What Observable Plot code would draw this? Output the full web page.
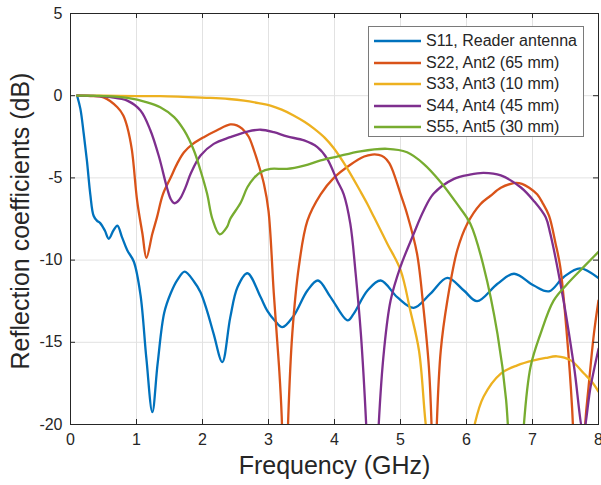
<!DOCTYPE html>
<html>
<head>
<meta charset="utf-8">
<script src="https://cdn.jsdelivr.net/npm/d3@7"></script>
<script src="https://cdn.jsdelivr.net/npm/@observablehq/plot@0.6"></script>
<style>
  body { margin: 0; background: #fff; overflow: hidden; }
  #wrap { position: relative; width: 601px; height: 485px; font-family: "Liberation Sans", Arial, sans-serif; }
  #wrap > svg { overflow: visible; }
  #legend { position: absolute; left: 368px; top: 26px; width: 214px; height: 109px; border: 1px solid #7a7a7a; background: #fff; }
  .row { position: absolute; left: 5px; height: 20px; display: flex; align-items: center; font-size: 16px; color: #262626; white-space: nowrap; }
  .row svg { margin-right: 4px; }
</style>
</head>
<body>
<div id="wrap"></div>
<script>
const xTicks = [0, 1, 2, 3, 4, 5, 6, 7, 8];
const yTicks = [-20, -15, -10, -5, 0, 5];
const seriesNames = ["S11, Reader antenna", "S22, Ant2 (65 mm)", "S33, Ant3 (10 mm)", "S44, Ant4 (45 mm)", "S55, Ant5 (30 mm)"];
const seriesColors = ["#0072BD", "#D95319", "#EDB120", "#7E2F8E", "#77AC30"];

const s11Freq = [0.1,0.15,0.2,0.25,0.3,0.35,0.4,0.45,0.52,0.58,0.65,0.71,0.78,0.86,0.96,1.06,1.15,1.24,1.32,1.42,1.52,1.62,1.73,1.87,1.97,2.07,2.17,2.3,2.42,2.53,2.68,2.88,2.98,3.1,3.21,3.38,3.59,3.75,3.94,4.2,4.29,4.5,4.7,4.95,5.2,5.45,5.71,5.96,6.16,6.47,6.72,7.02,7.25,7.47,7.72,8.0];
const s11dB = [0,-0.8,-2.3,-4.0,-6.0,-7.3,-7.6,-7.75,-8.2,-8.7,-8.2,-7.9,-8.6,-9.4,-10.1,-12.1,-16.0,-19.25,-16.3,-13.2,-12.0,-11.2,-10.7,-11.3,-11.95,-13.1,-14.5,-16.2,-13.5,-11.65,-10.8,-12.25,-13.07,-13.7,-14.08,-13.4,-11.85,-11.24,-12.25,-13.67,-13.27,-11.85,-11.24,-12.25,-12.9,-12.05,-11.08,-11.85,-12.5,-11.44,-10.83,-11.55,-11.9,-11.04,-10.5,-11.1];

const s22Freq = [0.1,0.3,0.5,0.71,0.8,0.86,0.93,1.01,1.09,1.15,1.24,1.31,1.4,1.52,1.62,1.72,1.85,2.02,2.22,2.42,2.52,2.6,2.7,2.78,2.85,2.93,3.0,3.08,3.16,3.2,3.25,3.3,3.36,3.46,3.59,3.79,3.99,4.24,4.45,4.57,4.67,4.75,4.83,4.9,5.0,5.1,5.25,5.35,5.43,5.47,5.505,5.55,5.61,5.71,5.86,6.01,6.21,6.36,6.52,6.67,6.75,6.84,6.95,7.07,7.15,7.25,7.35,7.42,7.52,7.6,7.715,7.8,7.85,7.93,8.0];
const s22dB = [0,-0.02,-0.1,-0.7,-1.2,-1.9,-3.3,-6.4,-8.4,-9.86,-8.4,-7.4,-6.0,-4.96,-4.1,-3.44,-2.95,-2.52,-2.1,-1.75,-1.8,-2.0,-2.5,-3.33,-4.2,-5.36,-7.0,-12.0,-16.5,-19.5,-28,-19.5,-14.5,-10.4,-7.6,-6.0,-5.0,-4.2,-3.7,-3.58,-3.6,-3.74,-4.1,-4.75,-5.97,-7.2,-9.6,-13.0,-16.5,-20,-28,-20,-15.5,-12.46,-9.4,-7.8,-6.6,-6.1,-5.6,-5.36,-5.3,-5.36,-5.6,-6.0,-6.5,-7.3,-9.0,-10.4,-14.5,-19,-30,-19.9,-17.7,-14.5,-12.46];

const s33Freq = [0.1,0.5,1.0,1.36,1.7,2.12,2.4,2.63,2.85,3.03,3.2,3.38,3.55,3.69,3.85,3.99,4.19,4.39,4.5,4.6,4.8,5.0,5.15,5.28,5.38,5.5,5.8,6.05,6.13,6.26,6.52,6.77,7.02,7.2,7.37,7.58,7.78,7.9,8.0];
const s33dB = [0,0,-0.02,-0.03,-0.07,-0.13,-0.2,-0.3,-0.45,-0.6,-0.85,-1.2,-1.6,-2.0,-2.55,-3.2,-4.4,-5.8,-6.6,-7.4,-9.0,-10.6,-13.1,-15.5,-19.9,-24,-28,-22,-19.9,-18.3,-16.9,-16.4,-16.1,-15.95,-15.85,-16.1,-16.9,-17.4,-18.0];

const s44Freq = [0.1,0.4,0.61,0.86,1.06,1.21,1.34,1.46,1.52,1.57,1.62,1.67,1.75,1.82,1.97,2.17,2.42,2.68,2.88,3.08,3.28,3.54,3.74,3.89,4.04,4.14,4.24,4.32,4.4,4.48,4.58,4.67,4.75,4.85,5.0,5.2,5.35,5.5,5.81,6.05,6.26,6.52,6.82,7.02,7.2,7.27,7.47,7.63,7.77,7.88,8.0];
const s44dB = [0,-0.02,-0.09,-0.3,-0.9,-2.1,-3.7,-5.57,-6.3,-6.54,-6.45,-6.2,-5.5,-4.75,-3.64,-2.93,-2.52,-2.18,-2.07,-2.22,-2.48,-2.72,-3.13,-3.84,-5.16,-6.0,-7.8,-10.8,-14.5,-20,-30,-20,-15.5,-12.46,-10.4,-8.4,-7.0,-5.97,-5.06,-4.8,-4.7,-4.85,-5.57,-6.4,-7.4,-8.4,-12.46,-16.5,-20.4,-17.7,-15.4];

const s55Freq = [0.1,0.5,0.86,1.16,1.36,1.57,1.72,1.87,1.97,2.07,2.15,2.26,2.37,2.42,2.58,2.68,2.78,2.88,3.03,3.28,3.54,3.79,4.04,4.39,4.8,5.1,5.35,5.61,5.86,6.06,6.26,6.47,6.6,6.765,6.87,6.97,7.12,7.32,7.53,7.78,8.0];
const s55dB = [0,-0.02,-0.13,-0.4,-0.7,-1.3,-2.1,-3.33,-4.55,-5.97,-7.5,-8.44,-8.0,-7.5,-6.5,-5.57,-5.0,-4.65,-4.45,-4.45,-4.25,-3.94,-3.7,-3.38,-3.23,-3.44,-4.14,-5.26,-6.6,-7.8,-10.4,-14.5,-18.5,-30,-20,-16.5,-14.5,-12.46,-11.44,-10.4,-9.5];

const freqs = [s11Freq, s22Freq, s33Freq, s44Freq, s55Freq];
const dbs = [s11dB, s22dB, s33dB, s44dB, s55dB];
const rows = [];
seriesNames.forEach((name, i) => {
  freqs[i].forEach((f, j) => rows.push({f, db: dbs[i][j], name}));
});

const W = 601, H = 485, mT = 13, mR = 3, mB = 61, mL = 70;
const pw = W - mL - mR, ph = H - mT - mB;
const ink = "#262626";
const font = "Liberation Sans, Arial, sans-serif";

const chart = Plot.plot({
  width: W, height: H,
  marginTop: mT, marginRight: mR, marginBottom: mB, marginLeft: mL,
  style: {fontFamily: font, color: ink, background: "#fff", overflow: "visible"},
  x: {domain: [0, 8], axis: null},
  y: {domain: [-20, 5], axis: null},
  color: {domain: seriesNames, range: seriesColors},
  marks: [
    Plot.gridX(xTicks, {stroke: "#e2e2e2", strokeOpacity: 1}),
    Plot.gridY(yTicks, {stroke: "#e2e2e2", strokeOpacity: 1}),
    Plot.line(rows, {x: "f", y: "db", z: "name", stroke: "name", curve: "catmull-rom", strokeWidth: 2.3, clip: true, strokeLinejoin: "round"}),
    Plot.tickX(xTicks, {x: d => d, insetTop: ph - 5, stroke: ink}),
    Plot.tickX(xTicks, {x: d => d, insetBottom: ph - 5, stroke: ink}),
    Plot.tickY(yTicks, {y: d => d, insetRight: pw - 5, stroke: ink}),
    Plot.tickY(yTicks, {y: d => d, insetLeft: pw - 5, stroke: ink}),
    Plot.frame({stroke: ink, strokeWidth: 1}),
    Plot.axisX(xTicks, {tickSize: 0, tickPadding: 9, fontSize: 16, label: null, tickFormat: d => String(d), fill: ink}),
    Plot.axisY(yTicks, {tickSize: 0, tickPadding: 8, fontSize: 16, label: null, tickFormat: d => String(d), fill: ink}),
    Plot.text(["Frequency (GHz)"], {frameAnchor: "bottom", dy: 49, fontSize: 25, fill: ink}),
    Plot.text(["Reflection coefficients (dB)"], {frameAnchor: "left", textAnchor: "middle", dx: -50, dy: 2, rotate: -90, fontSize: 25, fill: ink})
  ]
});

const wrap = document.getElementById("wrap");
wrap.appendChild(chart);
const legend = document.createElement("div");
legend.id = "legend";
seriesNames.forEach((name, i) => {
  const r = document.createElement("div");
  r.className = "row";
  r.style.top = Math.round(4 + i * 21.5) + "px";
  const ns = "http://www.w3.org/2000/svg";
  const sw = document.createElementNS(ns, "svg");
  sw.setAttribute("width", "48");
  sw.setAttribute("height", "20");
  const ln = document.createElementNS(ns, "line");
  ln.setAttribute("x1", "0"); ln.setAttribute("x2", "47");
  ln.setAttribute("y1", "10"); ln.setAttribute("y2", "10");
  ln.setAttribute("stroke", seriesColors[i]);
  ln.setAttribute("stroke-width", "2.3");
  sw.appendChild(ln);
  const t = document.createElement("span");
  t.textContent = name;
  r.appendChild(sw); r.appendChild(t);
  legend.appendChild(r);
});
wrap.appendChild(legend);
</script>
</body>
</html>
